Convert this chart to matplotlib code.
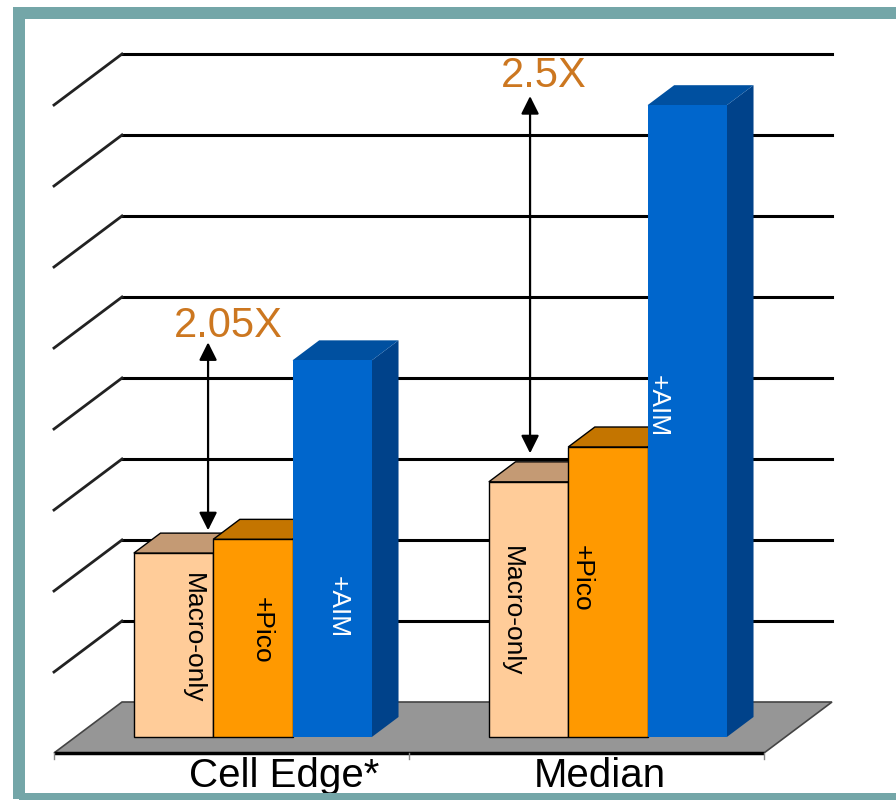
import matplotlib
matplotlib.use('Agg')
import matplotlib.pyplot as plt
from matplotlib.patches import Polygon, Rectangle

plt.rcParams['font.family'] = ['Liberation Sans', 'DejaVu Sans']

# data (arbitrary units, one gridline = 1)
categories = ['Cell Edge*', 'Median']
series_names = ['Macro-only', '+Pico', '+AIM']
macro_only = [2.27, 3.15]
pico = [2.44, 3.58]
aim = [4.65, 7.80]
ratio_labels = ['2.05X', '2.5X']

# styles
face_colors = ['#FFCC99', '#FF9900', '#0066CC']
top_colors = ['#C49A74', '#C47500', '#0050A0']
side_colors = ['#A07850', '#A05F00', '#00428A']
edge_colors = ['black', 'black', '#0066CC']
text_colors = ['black', 'black', 'white']
ratio_color = '#CC7720'

# fake 3d layout (screen units: x = 355 px per category, y = 81 px per unit)
PX_X, PX_Y = 355.0, 81.0
X0, Y0 = 231.5, 753.0
WDX, WDY = 68 / PX_X, 51 / PX_Y      # depth of the floor / back wall
D_FRONT, D_BACK = 0.314, 0.706       # bar front and back as fraction of depth
BAR_W = 0.2235
BDX = (D_BACK - D_FRONT) * WDX
BDY = (D_BACK - D_FRONT) * WDY

# text / arrow anchors
bar_label_x = [[-0.1085, 0.790], [0.086, 0.987], [0.300, 1.201]]
bar_label_y = [[1.414, 1.753], [1.519, 2.154], [1.796, 4.278]]
arrow_x = [-0.066, 0.841]
arrow_lo = [2.75, 3.70]
arrow_hi = [5.07, 8.11]
ratio_x = [-0.010, 0.880]
ratio_y = [5.136, 8.222]
cat_label_x = [0.148, 1.037]
cat_label_y = -0.42

fig = plt.figure(figsize=(8.96, 8.0), dpi=100)
ax = fig.add_axes([0, 0, 1, 1])
ax.set_xlim(-X0 / PX_X, (896 - X0) / PX_X)
ax.set_ylim((Y0 - 800) / PX_Y, Y0 / PX_Y)
ax.axis('off')

n = len(categories)
left, right = -0.5, n - 0.5

# floor
floor = Polygon([(left, 0), (right, 0), (right + WDX, WDY), (left + WDX, WDY)],
                closed=True, facecolor='#969696', edgecolor='#444444', lw=1.2, zorder=1)
ax.add_patch(floor)
ax.plot([left, right], [0, 0], color='black', lw=2.5, zorder=1.5, solid_capstyle='butt')
for t in range(n + 1):
    ax.plot([left + t, left + t], [0, -0.08], color='#888888', lw=1, zorder=1.5)

# back wall gridlines + left wall diagonals
for k in range(1, 9):
    ax.plot([left + WDX, right + WDX], [k + WDY, k + WDY], color='black', lw=2.2, zorder=2)
    ax.plot([left, left + WDX], [k, k + WDY], color='#222222', lw=2, zorder=2)

# bars
for i, vals in enumerate([macro_only, pico, aim]):
    xs = [g + (i - 1) * BAR_W + D_FRONT * WDX for g in range(n)]
    lw = 0 if i == 2 else 1.0
    bars = ax.bar(xs, vals, width=BAR_W, bottom=D_FRONT * WDY, color=face_colors[i],
                  edgecolor=edge_colors[i], linewidth=lw, zorder=4 + 2 * i)
    for r in bars:
        x0 = r.get_x()
        x1 = x0 + r.get_width()
        yb = r.get_y()
        yt = yb + r.get_height()
        side = Polygon([(x1, yb), (x1, yt), (x1 + BDX, yt + BDY), (x1 + BDX, yb + BDY)],
                       closed=True, facecolor=side_colors[i], edgecolor=edge_colors[i] if i < 2 else side_colors[i],
                       lw=lw, zorder=3 + 2 * i)
        top = Polygon([(x0, yt), (x1, yt), (x1 + BDX, yt + BDY), (x0 + BDX, yt + BDY)],
                      closed=True, facecolor=top_colors[i], edgecolor=edge_colors[i] if i < 2 else top_colors[i],
                      lw=lw, zorder=3 + 2 * i)
        ax.add_patch(side)
        ax.add_patch(top)
    for g in range(n):
        ax.text(bar_label_x[i][g], bar_label_y[i][g], series_names[i], rotation=-90,
                ha='center', va='center', fontsize=19, color=text_colors[i], zorder=10)

# ratio arrows
for g in range(n):
    ax.annotate('', xy=(arrow_x[g], arrow_hi[g]), xytext=(arrow_x[g], arrow_lo[g]),
                arrowprops=dict(arrowstyle='<|-|>,head_length=0.6,head_width=0.3',
                                color='black', lw=1.6, mutation_scale=18,
                                shrinkA=0, shrinkB=0), zorder=11)
    ax.text(ratio_x[g], ratio_y[g], ratio_labels[g], ha='center', va='baseline',
            fontsize=30, color=ratio_color, zorder=11)

# category labels
for g in range(n):
    ax.text(cat_label_x[g], cat_label_y, categories[g], ha='center', va='baseline',
            fontsize=29, color='black', zorder=11)

# teal frame
fig.add_artist(Rectangle((19 / 896, 1 / 800), 880 / 896, 786 / 800, transform=fig.transFigure,
                         fill=False, edgecolor='#74A6A8', lw=8.64, zorder=20))

fig.savefig('out.png', dpi=100)
